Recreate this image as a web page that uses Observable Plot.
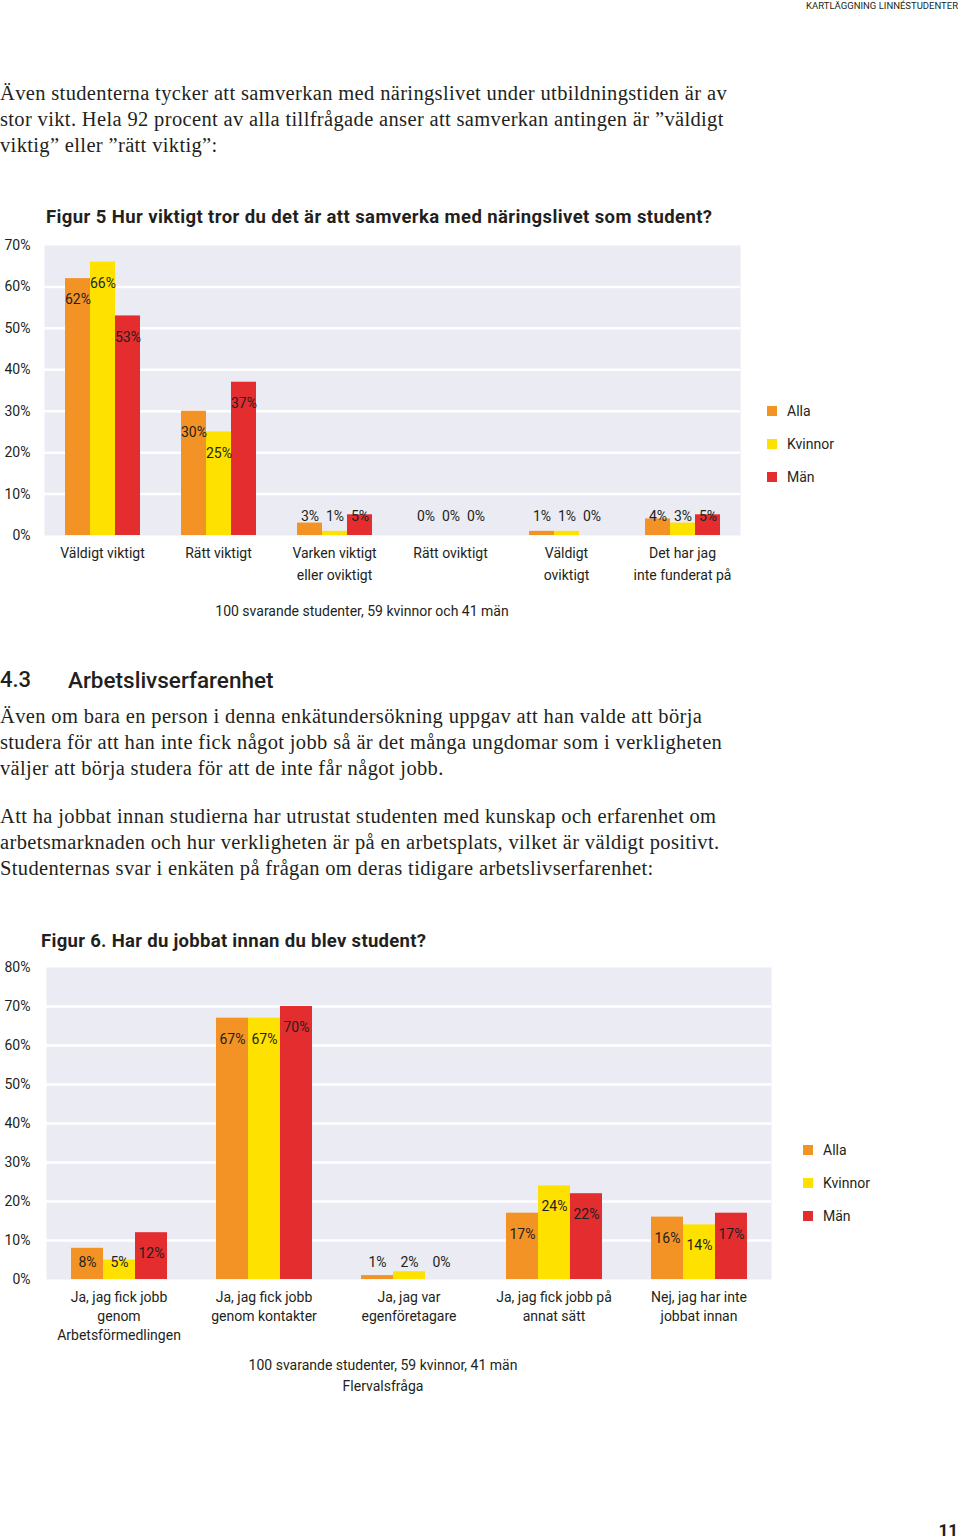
<!DOCTYPE html>
<html><head><meta charset="utf-8">
<script src="https://cdn.jsdelivr.net/npm/d3@7"></script>
<script src="https://cdn.jsdelivr.net/npm/@observablehq/plot@0.6"></script>
<style>
body{margin:0;background:#fff;}
#page{position:relative;width:960px;height:1539px;overflow:hidden;font-family:Roboto,sans-serif;color:#231f20;}
.abs{position:absolute;white-space:pre;}
.serif{font-family:"Liberation Serif",serif;font-size:20.5px;letter-spacing:0.35px;line-height:26px;height:26px;}
.sans{font-family:Roboto,sans-serif;font-size:14px;line-height:20px;height:20px;}
.sw{position:absolute;width:10px;height:10px;}
svg{position:absolute;}
</style></head><body><div id="page"></div>
<script>
// ---------- data ----------
const series = ["Alla", "Kvinnor", "Män"];
const seriesColors = ["#f39325", "#ffe100", "#e42d2f"];

const fig5Categories = ["Väldigt viktigt", "Rätt viktigt", "Varken viktigt\neller oviktigt", "Rätt oviktigt", "Väldigt\noviktigt", "Det har jag\ninte funderat på"];
const fig5Alla    = [62, 30, 3, 0, 1, 4];
const fig5Kvinnor = [66, 25, 1, 0, 1, 3];
const fig5Man     = [53, 37, 5, 0, 0, 5];
const fig5Ticks   = [0, 10, 20, 30, 40, 50, 60, 70];

const fig6Categories = ["Ja, jag fick jobb\ngenom\nArbetsförmedlingen", "Ja, jag fick jobb\ngenom kontakter", "Ja, jag var\negenföretagare", "Ja, jag fick jobb på\nannat sätt", "Nej, jag har inte\njobbat innan"];
const fig6Alla    = [8, 67, 1, 17, 16];
const fig6Kvinnor = [5, 67, 2, 24, 14];
const fig6Man     = [12, 70, 0, 22, 17];
const fig6Ticks   = [0, 10, 20, 30, 40, 50, 60, 70, 80];

const fig5Title = "Figur 5 Hur viktigt tror du det är att samverka med näringslivet som student?";
const fig5Caption = "100 svarande studenter, 59 kvinnor och 41 män";
const fig6Title = "Figur 6. Har du jobbat innan du blev student?";
const fig6Caption = ["100 svarande studenter, 59 kvinnor, 41 män", "Flervalsfråga"];

const headerText = "KARTLÄGGNING LINNÉSTUDENTER";
const para1 = ["Även studenterna tycker att samverkan med näringslivet under utbildningstiden är av",
  "stor vikt. Hela 92 procent av alla tillfrågade anser att samverkan antingen är ”väldigt",
  "viktig” eller ”rätt viktig”:"];
const para2 = ["Även om bara en person i denna enkätundersökning uppgav att han valde att börja",
  "studera för att han inte fick något jobb så är det många ungdomar som i verkligheten",
  "väljer att börja studera för att de inte får något jobb."];
const para3 = ["Att ha jobbat innan studierna har utrustat studenten med kunskap och erfarenhet om",
  "arbetsmarknaden och hur verkligheten är på en arbetsplats, vilket är väldigt positivt.",
  "Studenternas svar i enkäten på frågan om deras tidigare arbetslivserfarenhet:"];

// ---------- helpers ----------
const page = document.getElementById("page");
function txt(t, x, cy, cls, extra = {}) {
  const d = document.createElement("div");
  d.className = "abs " + cls;
  d.textContent = t;
  const lh = parseFloat(extra.lh || (cls.includes("serif") ? 26 : 20));
  d.style.top = (cy - lh / 2) + "px";
  d.style.lineHeight = lh + "px";
  d.style.height = lh + "px";
  if (extra.anchor === "end") { d.style.right = (960 - x) + "px"; }
  else if (extra.anchor === "middle") { d.style.left = (x - 400) + "px"; d.style.width = "800px"; d.style.textAlign = "center"; }
  else d.style.left = x + "px";
  for (const k of ["fontSize", "fontWeight", "letterSpacing", "fontFamily"]) if (extra[k]) d.style[k] = extra[k];
  page.appendChild(d);
}
function legend(x, ys) {
  series.forEach((s, i) => {
    const sq = document.createElement("div");
    sq.className = "sw";
    sq.style.left = x + "px"; sq.style.top = (ys[i] - 5) + "px"; sq.style.background = seriesColors[i];
    page.appendChild(sq);
    txt(s, x + 20, ys[i], "sans");
  });
}
function rowsOf(cats, a, k, m) {
  const vals = [a, k, m];
  return cats.flatMap((c, i) => series.map((s, j) => ({cat: c, series: s, value: vals[j][i]})));
}
function chart(o) {
  const svg = Plot.plot({
    width: o.width, height: o.height,
    marginLeft: o.ml, marginRight: o.mr, marginTop: o.mt, marginBottom: o.mb,
    style: {fontFamily: "Roboto", fontSize: "14px", color: "#231f20", background: "transparent", overflow: "visible"},
    fx: {domain: o.cats, padding: 0, axis: null},
    x: {domain: series, paddingInner: 0, paddingOuter: o.pout, axis: null},
    y: {domain: [0, o.ticks[o.ticks.length - 1]], ticks: o.ticks, tickFormat: d => d + "%", tickSize: 0, tickPadding: o.tp, label: null},
    color: {domain: series, range: seriesColors},
    marks: [
      Plot.frame({facet: "super", fill: "#eaebf3", stroke: null}),
      Plot.ruleY(o.ticks.slice(1, -1), {stroke: "#fff", strokeWidth: 2.5}),
      Plot.barY(o.rows, {fx: "cat", x: "series", y: "value", fill: "series"}),
      Plot.text(o.rows, {fx: "cat", x: "series", y: d => Math.max(d.value - o.shift, o.minLabel), text: d => d.value + "%", fill: "#231f20", fontSize: 14}),
      Plot.text(o.cats, {fx: d => d, text: d => d, frameAnchor: "bottom", lineAnchor: "top", dy: o.dy, lineHeight: o.lh, fontSize: 14, fill: "#231f20"})
    ]
  });
  svg.style.left = o.left + "px";
  svg.style.top = o.top + "px";
  page.appendChild(svg);
}

// ---------- page text ----------
txt(headerText, 958, 6, "sans", {anchor: "end", fontSize: "9.5px", lh: 12});
para1.forEach((l, i) => txt(l, 0, 93 + i * 26, "serif"));
txt(fig5Title, 46, 217, "sans", {fontSize: "18.5px", fontWeight: "700", letterSpacing: "0.4px", lh: 24});
txt(fig5Caption, 362, 611, "sans", {anchor: "middle"});
legend(767, [411, 444, 477]);

txt("4.3", 0, 680, "sans", {fontSize: "22px", fontWeight: "500", lh: 26});
txt("Arbetslivserfarenhet", 68, 680, "sans", {fontSize: "22.5px", fontWeight: "500", lh: 26});
para2.forEach((l, i) => txt(l, 0, 716 + i * 26, "serif"));
para3.forEach((l, i) => txt(l, 0, 816 + i * 26, "serif"));

txt(fig6Title, 41, 941, "sans", {fontSize: "18.5px", fontWeight: "700", letterSpacing: "0.3px", lh: 24});
txt(fig6Caption[0], 383, 1365, "sans", {anchor: "middle"});
txt(fig6Caption[1], 383, 1386, "sans", {anchor: "middle"});
legend(803, [1150, 1183, 1216]);
txt("11", 958, 1530, "sans", {anchor: "end", fontSize: "17px", fontWeight: "700", lh: 16});

// ---------- charts ----------
chart({
  cats: fig5Categories, rows: rowsOf(fig5Categories, fig5Alla, fig5Kvinnor, fig5Man), ticks: fig5Ticks,
  width: 760, height: 355, ml: 43, mr: 20, mt: 10, mb: 55, pout: 0.76, tp: 14,
  shift: 5.1, minLabel: 4.6, lh: 1.57, dy: 7, left: 0, top: 235
});
chart({
  cats: fig6Categories, rows: rowsOf(fig6Categories, fig6Alla, fig6Kvinnor, fig6Man), ticks: fig6Ticks,
  width: 790, height: 392, ml: 45, mr: 18, mt: 10, mb: 70, pout: 0.75, tp: 16,
  shift: 5.4, minLabel: 4.4, lh: 1.36, dy: 9, left: 0, top: 957
});
</script>
</body></html>
